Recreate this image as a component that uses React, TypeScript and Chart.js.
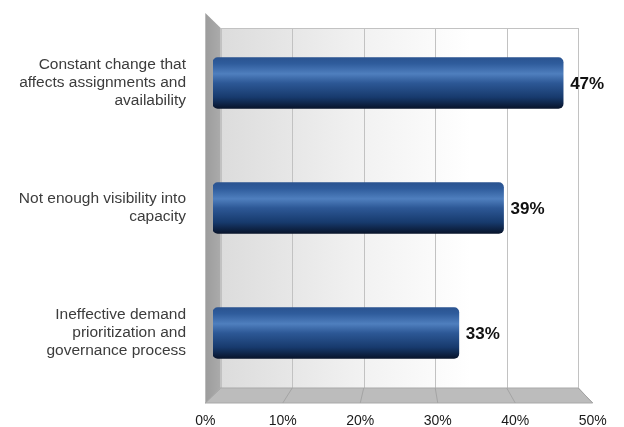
import { useEffect, useRef } from "react";
import { Chart, registerables } from "chart.js";

Chart.register(...registerables);

const categories: string[][] = [
  ["Constant change that", "affects assignments and", "availability"],
  ["Not enough visibility into", "capacity"],
  ["Ineffective demand", "prioritization and", "governance process"],
];
const values: number[] = [47, 39, 33];
const tickValues: number[] = [0, 10, 20, 30, 40, 50];
const tickLabels: string[] = ["0%", "10%", "20%", "30%", "40%", "50%"];

const BACK = 0.96;
const FRONT = 1.04;

function proj(chart: any) {
  const a = chart.chartArea;
  const x = chart.scales.x;
  const cx = x.getPixelForValue(25.8);
  const cy = (a.top + a.bottom) / 2;
  const px = (v: number, k: number) => cx + (x.getPixelForValue(v) - cx) * k;
  const py = (yy: number, k: number) => cy + (yy - cy) * k;
  return { a, px, py };
}

const depthPlugin = {
  id: "depth3d",
  beforeDatasetsDraw(chart: any) {
    const ctx: CanvasRenderingContext2D = chart.ctx;
    const { a, px, py } = proj(chart);
    const bl = px(0, BACK), br = px(50, BACK), bt = py(a.top, BACK), bb = py(a.bottom, BACK);
    const fl = px(0, FRONT), fr = px(50, FRONT), ft = py(a.top, FRONT), fb = py(a.bottom, FRONT);
    ctx.save();
    // back wall
    const g = ctx.createLinearGradient(bl, 0, br, 0);
    g.addColorStop(0, "#dcdcdc");
    g.addColorStop(0.4, "#f2f2f2");
    g.addColorStop(0.7, "#ffffff");
    g.addColorStop(1, "#ffffff");
    ctx.fillStyle = g;
    ctx.fillRect(bl, bt, br - bl, bb - bt);
    // grid lines on back wall
    ctx.strokeStyle = "#c2c2c2";
    ctx.lineWidth = 1;
    ctx.beginPath();
    tickValues.forEach((v) => {
      const xx = Math.round(px(v, BACK)) + 0.5;
      ctx.moveTo(xx, bt);
      ctx.lineTo(xx, bb);
    });
    ctx.moveTo(bl, Math.round(bt) + 0.5);
    ctx.lineTo(br, Math.round(bt) + 0.5);
    ctx.stroke();
    // floor
    ctx.beginPath();
    ctx.moveTo(bl, bb);
    ctx.lineTo(br, bb);
    ctx.lineTo(fr, fb);
    ctx.lineTo(fl, fb);
    ctx.closePath();
    ctx.fillStyle = "#bcbcbc";
    ctx.fill();
    ctx.strokeStyle = "#a9a9a9";
    ctx.stroke();
    ctx.beginPath();
    tickValues.forEach((v) => {
      ctx.moveTo(px(v, BACK), bb);
      ctx.lineTo(px(v, FRONT), fb);
    });
    ctx.strokeStyle = "#a4a4a4";
    ctx.stroke();
    // left wall
    ctx.beginPath();
    ctx.moveTo(fl, ft);
    ctx.lineTo(bl, bt);
    ctx.lineTo(bl, bb);
    ctx.lineTo(fl, fb);
    ctx.closePath();
    const lg = ctx.createLinearGradient(fl, 0, bl, 0);
    lg.addColorStop(0, "#9c9c9c");
    lg.addColorStop(1, "#ababab");
    ctx.fillStyle = lg;
    ctx.fill();
    ctx.restore();
  },
  afterDatasetsDraw(chart: any) {
    const ctx: CanvasRenderingContext2D = chart.ctx;
    const { a, px, py } = proj(chart);
    const fb = py(a.bottom, FRONT);
    ctx.save();
    const meta = chart.getDatasetMeta(0);
    ctx.font = "bold 17px 'Liberation Sans', Arial, sans-serif";
    ctx.fillStyle = "#111111";
    ctx.textAlign = "left";
    ctx.textBaseline = "middle";
    meta.data.forEach((el: any, i: number) => {
      ctx.fillText(values[i] + "%", el.x + 7, el.y + 1);
    });
    ctx.font = "14px 'Liberation Sans', Arial, sans-serif";
    ctx.fillStyle = "#1a1a1a";
    ctx.textAlign = "center";
    tickValues.forEach((v, i) => {
      ctx.fillText(tickLabels[i], px(v, FRONT), fb + 18);
    });
    ctx.restore();
  },
};

export default function App() {
  const ref = useRef<HTMLCanvasElement | null>(null);
  useEffect(() => {
    if (!ref.current) return;
    const chart = new Chart(ref.current, {
      type: "bar",
      data: {
        labels: categories,
        datasets: [
          {
            data: values,
            barThickness: 51,
            borderRadius: 5,
            borderSkipped: false,
            backgroundColor: (c: any) => {
              const ch = c.chart;
              const ys = ch.scales && ch.scales.y;
              if (!ys || c.type !== "data" || !ch.ctx) return "#2b5592";
              const yc = ys.getPixelForValue(c.dataIndex);
              if (!Number.isFinite(yc)) return "#2b5592";
              const g = ch.ctx.createLinearGradient(0, yc - 25.5, 0, yc + 25.5);
              g.addColorStop(0, "#2a5390");
              g.addColorStop(0.12, "#2f5c9c");
              g.addColorStop(0.32, "#4f7fbe");
              g.addColorStop(0.5, "#2d5896");
              g.addColorStop(0.78, "#173a6d");
              g.addColorStop(1, "#08142b");
              return g;
            },
          },
        ],
      },
      options: {
        indexAxis: "y",
        animation: false,
        responsive: false,
        devicePixelRatio: 1,
        layout: { padding: { top: 20.5, right: 38.5, bottom: 31.5, left: 0 } },
        plugins: { legend: { display: false }, tooltip: { enabled: false } },
        scales: {
          x: { display: false, min: 0, max: 50 },
          y: {
            grid: { display: false, drawTicks: false },
            border: { display: false },
            afterFit: (s: any) => {
              s.width = 213;
              s.paddingTop = 0;
              s.paddingBottom = 0;
            },
            ticks: {
              padding: 27,
              color: "#3c3c3c",
              font: { family: "'Liberation Sans', Arial, sans-serif", size: 15.5, lineHeight: 1.16 },
            },
          },
        },
      },
      plugins: [depthPlugin],
    } as any);
    return () => chart.destroy();
  }, []);
  return (
    <div style={{ position: "fixed", left: 0, top: 0, width: 624, height: 427, background: "#ffffff" }}>
      <canvas ref={ref} width={624} height={427} />
    </div>
  );
}
